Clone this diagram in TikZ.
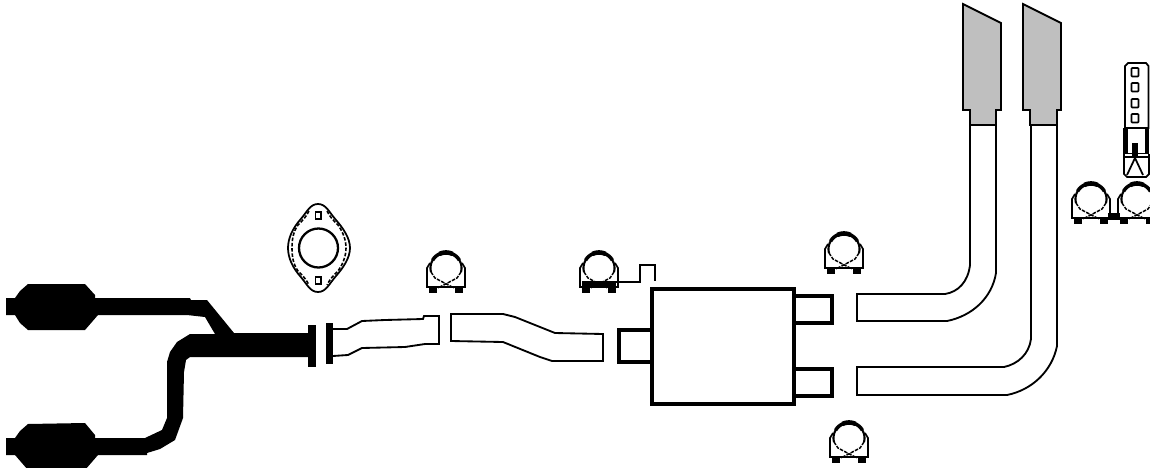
\documentclass[tikz,border=0pt]{standalone}
\tikzset{
  px/.style={x=0.02cm,y=-0.02cm},
  thinline/.style={draw=black,line width=1.05pt,line join=miter},
  boxline/.style={draw=black,line width=2.2pt,line join=miter},
  clamp/.pic={
    \draw[line width=0.95pt] (-16,11) -- (-19,16) -- (-19,35) -- (19,35) -- (19,16) -- (16,11);
    \draw[line width=1.2pt] plot[domain=-15:195,samples=40] ({15.5*cos(\x)},{16-15.5*sin(\x)});
    \draw[line width=2pt] plot[domain=30:150,samples=20] ({15.5*cos(\x)},{16-15.5*sin(\x)});
    \draw[line width=2.6pt] plot[domain=65:115,samples=10] ({15.5*cos(\x)},{16-15.5*sin(\x)});
    \draw[line width=0.85pt,dash pattern=on 2pt off 0.7pt] (-15,20) -- (-11,26) -- (8,36) (15,20) -- (11,26) -- (-8,36);
    \fill (-17,34) rectangle (-9,40.5);
    \fill (9,34) rectangle (17,40.5);
  },
}
\begin{document}
\begin{tikzpicture}[px]
\useasboundingbox (0,0) rectangle (1150,467);
\fill[white] (0,0) rectangle (1150,467);
% catalytic assembly
\fill (6,298) -- (15,298) -- (20,291) -- (28,284) -- (85,284) -- (95,295) -- (95,298) -- (190,298) -- (191,300) -- (207,300) -- (234,333) -- (309,333) -- (309,357) -- (190,357) -- (186,360) -- (184,372) -- (183,418) -- (175,440) -- (160,449) -- (147,453) -- (147,455) -- (98,455) -- (85,470) -- (28,470) -- (15,455) -- (6,455) -- (6,438) -- (15,438) -- (20,431) -- (28,424) -- (85,423) -- (95,435) -- (95,438) -- (145,438) -- (162,430) -- (167,418) -- (167,362) -- (170,352) -- (177,342) -- (190,334) -- (215,334) -- (205,317) -- (187,315) -- (98,315) -- (85,330) -- (28,330) -- (20,323) -- (15,315) -- (6,315) -- cycle;
\fill (308,325) rectangle (316,367);
\fill (325.5,323) rectangle (333,364);
% pipe 1
\draw[thinline] (333,329) -- (347,329) -- (362,321) -- (385,320) -- (423,319) -- (424,316) -- (439,316) -- (439,344) -- (425,344) -- (405,347) -- (362,348) -- (348,355) -- (333,356);
% pipe 2
\draw[thinline] (451,314) -- (503,314) -- (515,317) -- (555,333) -- (603,334) -- (603,361) -- (552,361) -- (540,357) -- (503,342) -- (451,341) -- cycle;
% muffler
\draw[boxline] (652,289) rectangle (794,404);
\draw[boxline] (650,330) -- (619,330) -- (619,362) -- (650,362);
\draw[boxline] (796,296) -- (832,296) -- (832,323) -- (796,323);
\draw[boxline] (796,369) -- (832,369) -- (832,396) -- (796,396);
% tail pipes
\draw[thinline] (970,125) -- (970,265) .. controls (968,282) and (958,292) .. (945,294) -- (857,294) -- (857,321) -- (947,321) .. controls (972,316) and (992,298) .. (996,273) -- (996,125);
\draw[thinline] (1031,125) -- (1031,339) .. controls (1029,354) and (1018,364) .. (1004,367) -- (857,367) -- (857,395) -- (1007,395) .. controls (1032,390) and (1052,371) .. (1057,346) -- (1057,125);
% tips
\draw[thinline,fill=black!25] (963,4) -- (1001,23) -- (1001,110) -- (996,110) -- (996,125) -- (970,125) -- (970,110) -- (963,110) -- cycle;
\draw[thinline,fill=black!25] (1023,4) -- (1061,23) -- (1061,110) -- (1057,110) -- (1057,125) -- (1030,125) -- (1030,110) -- (1023,110) -- cycle;
% clamps
\pic at (446,252) {clamp};
\pic at (599,252) {clamp};
\fill (582,281) rectangle (616,287);
\pic at (844,233) {clamp};
\pic at (849,422) {clamp};
\pic at (1091,183) {clamp};
\pic at (1137,183) {clamp};
\fill (1108,213) rectangle (1120,220);
% hook
\draw[line width=1.5pt] (616,282) -- (640,282) -- (640,265) -- (655,265) -- (655,281);
% gasket
\draw[line width=1pt] (318,204) .. controls (326,204) and (329,212) .. (336,220) .. controls (343,228) and (350,238) .. (350,248) .. controls (350,258) and (343,268) .. (336,276) .. controls (329,284) and (326,292) .. (318,292) .. controls (310,292) and (307,284) .. (300,276) .. controls (293,268) and (288,258) .. (288,248) .. controls (288,238) and (293,228) .. (300,220) .. controls (307,212) and (310,204) .. (318,204) -- cycle;
\draw[line width=0.9pt,dash pattern=on 2pt off 1pt] (327,211) .. controls (330,217) and (333,220) .. (338,225) .. controls (343,232) and (346,240) .. (346,248) .. controls (346,256) and (343,264) .. (338,271) .. controls (333,276) and (330,279) .. (327,285);
\draw[line width=0.9pt,dash pattern=on 2pt off 1pt] (309,211) .. controls (306,217) and (303,220) .. (298,225) .. controls (293,232) and (292,240) .. (292,248) .. controls (292,256) and (293,264) .. (298,271) .. controls (303,276) and (306,279) .. (309,285);
\draw[line width=1.3pt] (318.5,248) circle[radius=19.5];
\draw[line width=0.9pt] (315.5,212) rectangle (321,219);
\draw[line width=0.9pt] (315.5,277) rectangle (321,284);
% bracket
\draw[line width=1pt] (1125,128) -- (1125,66) -- (1128,63) -- (1146,63) -- (1148.5,66) -- (1148.5,128) -- cycle;
\foreach \yy in {68,83,99,114}
  \draw[line width=0.95pt,rounded corners=0.4pt] (1131.5,\yy) rectangle (1138.5,\yy+8.5);
\fill (1123,128) rectangle (1127.5,154);
\fill (1145,128) rectangle (1149,154);
\fill (1132,143) rectangle (1137.5,157);
\draw[line width=0.85pt] (1124,153.5) -- (1149,153.5) (1124,157) -- (1149,157);
\draw[line width=1pt] (1124,154) -- (1124,174) -- (1127,177) -- (1146,177) -- (1149,174) -- (1149,154);
\draw[line width=1pt] (1135,158) -- (1127,175) (1135,158) -- (1143,175);
\end{tikzpicture}
\end{document}
